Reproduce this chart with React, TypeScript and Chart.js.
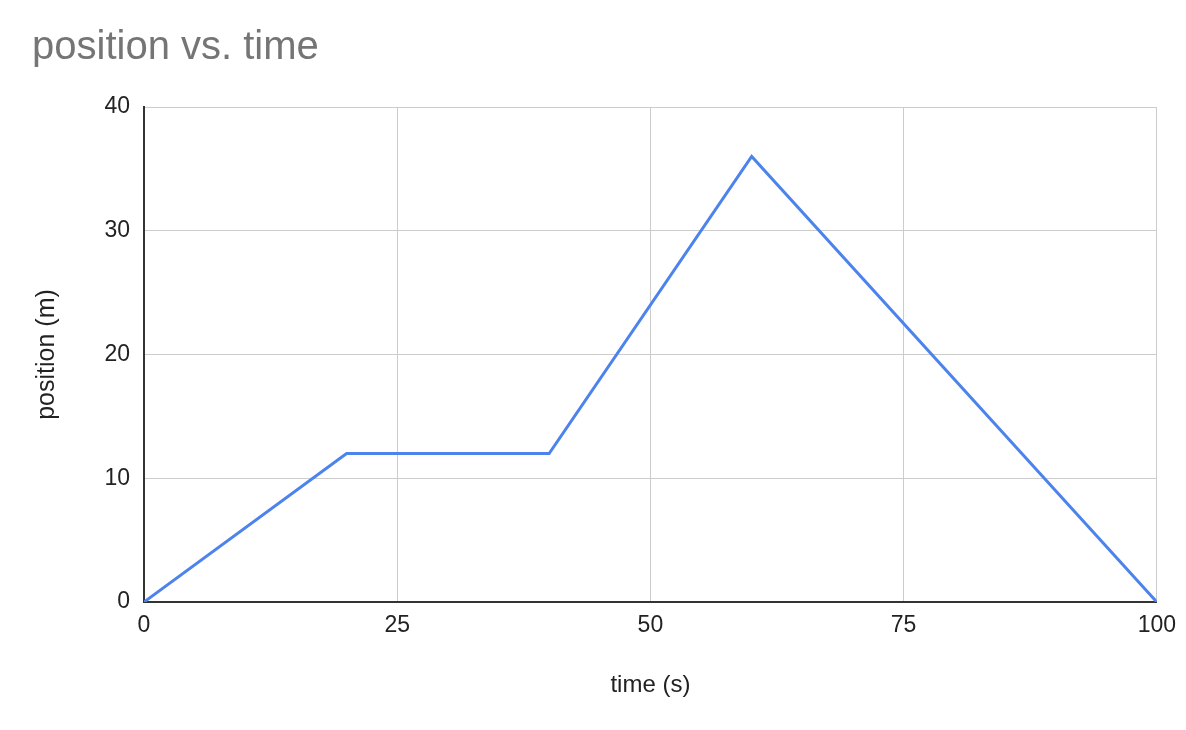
import React, { useRef, useEffect } from 'react';
import { Chart, registerables } from 'chart.js';

Chart.register(...registerables);

const times = [0, 20, 40, 60, 100];
const positions = [0, 12, 12, 36, 0];
const xTickStep = 25;
const yTickStep = 10;

const FONT = '"Liberation Sans", Arial, sans-serif';

const App: React.FC = () => {
  const canvas = useRef<HTMLCanvasElement>(null);

  useEffect(() => {
    if (!canvas.current) return;
    const ctx = canvas.current.getContext('2d');
    if (!ctx) return;

    const chart = new Chart(ctx, {
      type: 'line',
      data: {
        datasets: [
          {
            label: 'position',
            data: times.map((t, i) => ({ x: t, y: positions[i] })),
            borderColor: '#4d83ec',
            borderWidth: 3,
            pointRadius: 0,
            fill: false,
            tension: 0,
          },
        ],
      },
      options: {
        animation: false,
        responsive: true,
        maintainAspectRatio: false,
        layout: { padding: { left: 32, right: 29, top: 0, bottom: 0 } },
        plugins: {
          legend: { display: false },
          tooltip: { enabled: false },
          title: {
            display: true,
            text: 'position vs. time',
            align: 'start',
            color: '#757575',
            font: { family: FONT, size: 40, weight: 'normal' },
            padding: { top: 24, bottom: 35 },
          },
        },
        scales: {
          x: {
            type: 'linear',
            min: 0,
            max: 100,
            ticks: {
              stepSize: xTickStep,
              color: '#222',
              padding: 10,
              font: { family: FONT, size: 23 },
            },
            grid: { color: '#cccccc', lineWidth: 1, drawTicks: false },
            border: { color: '#333333', width: 2 },
            title: {
              display: true,
              text: 'time (s)',
              color: '#222',
              font: { family: FONT, size: 24 },
              padding: { top: 0, bottom: 30 },
            },
            afterFit: (scale: any) => {
              scale.height = 128;
            },
          },
          y: {
            min: 0,
            max: 40,
            ticks: {
              stepSize: yTickStep,
              color: '#222',
              padding: 14,
              font: { family: FONT, size: 23 },
            },
            grid: { color: '#cccccc', lineWidth: 1, drawTicks: false },
            border: { color: '#333333', width: 2 },
            title: {
              display: true,
              text: 'position (m)',
              color: '#222',
              font: { family: FONT, size: 25 },
              padding: { top: 0, bottom: 0 },
            },
            afterFit: (scale: any) => {
              scale.width = 112;
            },
          },
        },
      },
    });

    return () => chart.destroy();
  }, []);

  return (
    <div style={{ position: 'fixed', left: 0, top: 0, width: 1186, height: 730, background: '#fff' }}>
      <canvas ref={canvas}></canvas>
    </div>
  );
};

export default App;
